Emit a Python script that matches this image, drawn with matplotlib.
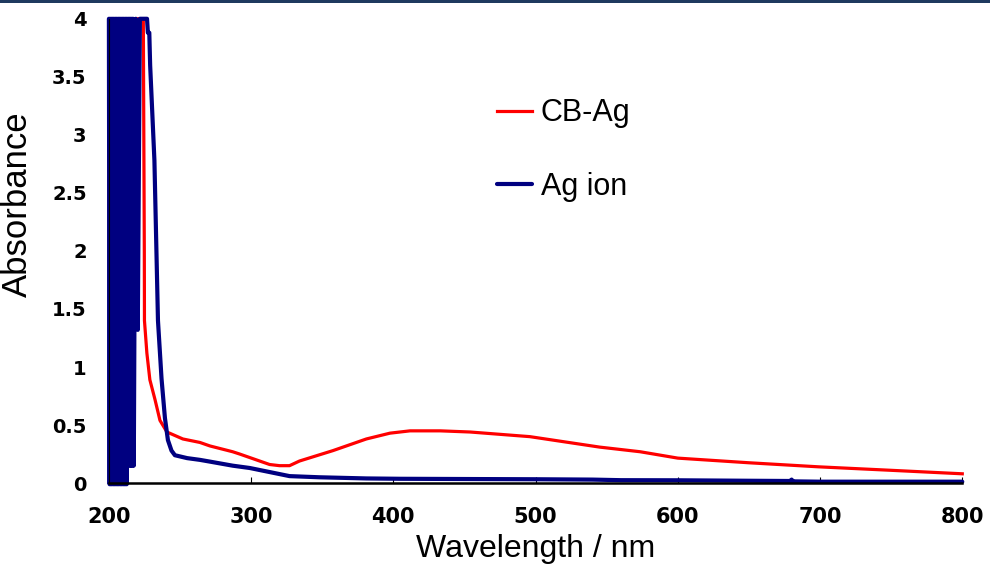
import numpy as np
import matplotlib.pyplot as plt
from matplotlib.patches import Rectangle

# --- data ---
# Ag ion: saturated / noisy region below ~218 nm, then the absorption tail
ion_wl = [200.0, 200.5, 201.0, 201.5, 202.0, 202.5, 203.0, 203.5, 204.0, 204.5,
          205.0, 205.5, 206.0, 206.5, 207.0, 207.5, 208.0, 208.5, 209.0, 209.5,
          210.0, 210.5, 211.0, 211.5, 212.0, 212.5, 213.0, 213.5, 214.0, 214.5,
          215.0, 215.5, 216.0, 216.5, 217.0, 217.5,
          218.9, 220.3, 221.8, 226.8, 227.4, 228.4, 229.0, 232.0, 234.5, 237.0,
          239.4, 241.5, 244.0, 246.4, 255.0, 264.0, 271.0, 287.0, 299.0, 313.0,
          327.0, 348.0, 381.0, 405.0, 450.0, 500.0, 540.0, 560.0, 600.0, 650.0,
          679.0, 680.0, 681.0, 700.0, 750.0, 800.0]
ion_abs = [4.0, -0.01, 4.0, -0.01, 4.0, -0.01, 4.0, -0.01, 4.0, -0.01,
           4.0, -0.01, 4.0, -0.01, 4.0, -0.01, 4.0, -0.01, 4.0, -0.01,
           4.0, -0.01, 4.0, -0.01, 4.0, -0.01, 4.0, 0.15, 4.0, 0.15,
           4.0, 0.15, 4.0, 0.15, 4.0, 0.15,
           4.0, 1.32, 4.0, 4.0, 3.88, 3.88, 3.6, 2.78, 1.40, 0.9,
           0.56, 0.37, 0.28, 0.24, 0.215, 0.2, 0.185, 0.15, 0.13, 0.095,
           0.06, 0.05, 0.04, 0.037, 0.035, 0.033, 0.03, 0.025, 0.024, 0.02,
           0.018, 0.03, 0.015, 0.012, 0.012, 0.012]

# CB-Ag: noisy under the Ag ion trace, then plasmon band near 420 nm
cb_wl = [200.0, 200.7, 201.4, 202.1, 202.8, 203.5, 204.2, 204.9, 205.6, 206.3,
         207.0, 207.7, 208.4, 209.1, 209.8, 210.5, 211.2, 211.9, 212.6, 213.3,
         214.0, 214.7, 215.4, 216.1, 216.8, 217.5,
         224.2, 224.9, 225.0, 226.7, 228.8, 232.4, 235.9, 240.8, 252.0,
         264.0, 271.0, 287.0, 292.0, 313.0, 320.0, 327.0, 334.0, 357.6, 381.0,
         397.6, 411.7, 433.0, 454.0, 475.0, 496.0, 545.0, 573.5, 600.0, 650.0,
         699.0, 750.0, 800.0]
cb_abs = [3.3, 0.3, 4.0, 0.4, 4.0, 0.3, 4.0, 0.5, 4.0, 0.3,
          4.0, 0.4, 4.0, 0.3, 4.0, 0.5, 4.0, 0.4, 4.0, 0.3,
          4.0, 0.4, 4.0, 0.3, 4.0, 4.0,
          4.0, 2.0, 1.4, 1.12, 0.89, 0.72, 0.54, 0.44, 0.38,
          0.35, 0.32, 0.27, 0.25, 0.16, 0.15, 0.15, 0.19, 0.28, 0.38,
          0.43, 0.45, 0.45, 0.44, 0.42, 0.40, 0.31, 0.27, 0.215, 0.175,
          0.14, 0.11, 0.08]

x_ticks = [200, 300, 400, 500, 600, 700, 800]
y_ticks = [0, 0.5, 1, 1.5, 2, 2.5, 3, 3.5, 4]
y_tick_labels = ['0', '0.5', '1', '1.5', '2', '2.5', '3', '3.5', '4']

plt.rcParams['font.family'] = ['Liberation Sans', 'DejaVu Sans']

fig = plt.figure(figsize=(9.9, 5.69), dpi=100)
ax = fig.add_axes([0.110, 0.151, 0.862, 0.816])

# thin navy band along the top edge of the image
fig.add_artist(Rectangle((0, 1 - 3 / 569), 1, 3 / 569, transform=fig.transFigure,
                         color='#1f3a5f', lw=0))

ax.plot(cb_wl, cb_abs, color='#ff0000', lw=2.3, label='CB-Ag', clip_on=False,
        solid_joinstyle='round')
ax.plot(ion_wl, ion_abs, color='#000080', lw=3.0, label='Ag ion', clip_on=False,
        solid_joinstyle='round', solid_capstyle='round')

ax.set_xlim(200, 800)
ax.set_ylim(0, 4)
ax.set_xticks(x_ticks)
ax.set_yticks(y_ticks)
ax.set_yticklabels(y_tick_labels)

for lab in ax.get_xticklabels():
    lab.set_fontfamily('DejaVu Sans')
    lab.set_fontweight('bold')
    lab.set_fontsize(15)
for lab in ax.get_yticklabels():
    lab.set_fontfamily('DejaVu Sans')
    lab.set_fontweight('bold')
    lab.set_fontsize(14)

ax.tick_params(axis='x', direction='in', length=4, width=0.8, pad=17)
ax.tick_params(axis='y', length=0, pad=16)

for s in ['top', 'right']:
    ax.spines[s].set_visible(False)
ax.spines['bottom'].set_linewidth(1.8)
ax.spines['left'].set_linewidth(0.8)

ax.set_xlabel('Wavelength / nm', fontsize=23, labelpad=5)
ax.set_ylabel('Absorbance', fontsize=25)
ax.yaxis.set_label_coords(-0.088, 0.60)

ax.legend(loc='upper left', bbox_to_anchor=(0.44, 0.855), frameon=False,
          fontsize=22, handlelength=1.15, handletextpad=0.3, labelspacing=1.42,
          borderaxespad=0)

fig.savefig('out.png', dpi=100, facecolor='white')
